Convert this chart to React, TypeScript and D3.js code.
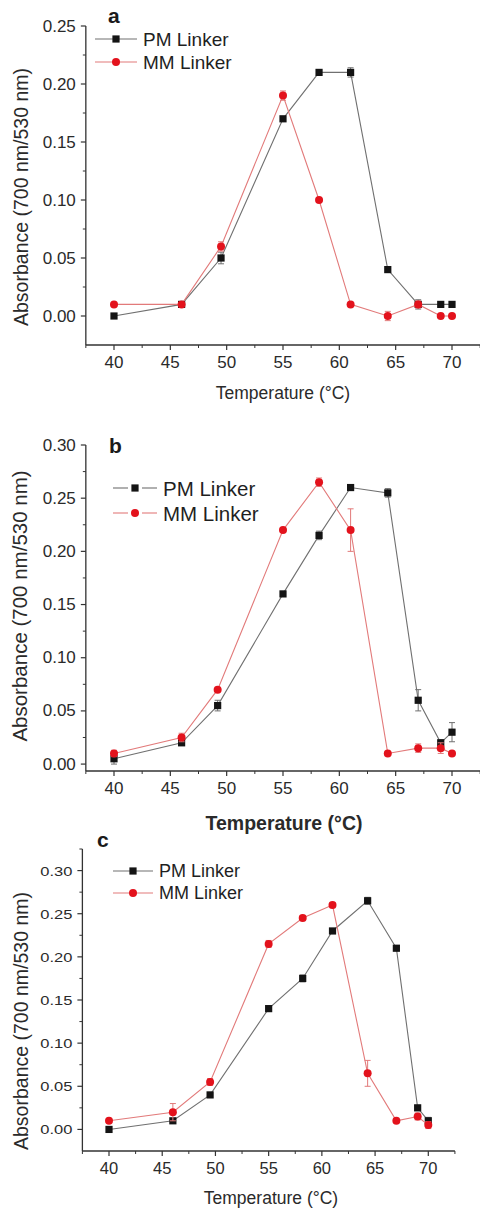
import React from "react";
import * as d3 from "d3";

const tempsA = [40, 46, 49.5, 55, 58.2, 61, 64.3, 67, 69, 70];
const pmA = [0.0, 0.01, 0.05, 0.17, 0.21, 0.21, 0.04, 0.01, 0.01, 0.01];
const pmAErr = [0, 0, 0.005, 0, 0, 0.004, 0, 0.004, 0, 0];
const mmA = [0.01, 0.01, 0.06, 0.19, 0.1, 0.01, 0.0, 0.01, 0.0, 0.0];
const mmAErr = [0, 0, 0.004, 0.004, 0, 0, 0.004, 0.003, 0, 0];

const tempsB = [40, 46, 49.2, 55, 58.2, 61, 64.3, 67, 69, 70];
const pmB = [0.005, 0.02, 0.055, 0.16, 0.215, 0.26, 0.255, 0.06, 0.02, 0.03];
const pmBErr = [0.005, 0.002, 0.005, 0, 0.004, 0, 0.004, 0.01, 0.003, 0.009];
const mmB = [0.01, 0.025, 0.07, 0.22, 0.265, 0.22, 0.01, 0.015, 0.015, 0.01];
const mmBErr = [0.003, 0.004, 0, 0, 0.004, 0.02, 0, 0.004, 0.005, 0];

const tempsC = [40, 46, 49.5, 55, 58.2, 61, 64.3, 67, 69, 70];
const pmC = [0.0, 0.01, 0.04, 0.14, 0.175, 0.23, 0.265, 0.21, 0.025, 0.01];
const pmCErr = [0, 0, 0, 0, 0.004, 0, 0.004, 0, 0.003, 0.004];
const mmC = [0.01, 0.02, 0.055, 0.215, 0.245, 0.26, 0.065, 0.01, 0.015, 0.005];
const mmCErr = [0, 0.01, 0.004, 0.004, 0.003, 0.003, 0.015, 0, 0.004, 0.004];

const xTicks = [40, 45, 50, 55, 60, 65, 70];
const seriesNames = ["PM Linker", "MM Linker"];
const xTitle = "Temperature (\u00B0C)";
const yTitle = "Absorbance (700 nm/530 nm)";

const PM_MARK = "#141414";
const PM_LINE = "#707070";
const MM_MARK = "#e3121c";
const MM_LINE = "#e27a7a";
const AXIS = "#333";
const FONT = "'Liberation Sans', Arial, sans-serif";

type PanelCfg = {
  label: string;
  temps: number[];
  pm: number[];
  pmErr: number[];
  mm: number[];
  mmErr: number[];
  x40: number;
  x70: number;
  yDomain: [number, number];
  yRange: [number, number];
  yMax: number;
  tickFont: number;
  tickScaleY: number;
  xTitleBold: boolean;
  xTitleFont: number;
  xTitleX: number;
  xTitleY: number;
  yTitleX: number;
  yTitleY: number;
  yTitleFont: number;
  labelPos: [number, number];
  legend: { x1: number; x2: number; mx: number; tx: number; y1: number; y2: number; font: number; gap: boolean };
};

const panels: PanelCfg[] = [
  {
    label: "a",
    temps: tempsA, pm: pmA, pmErr: pmAErr, mm: mmA, mmErr: mmAErr,
    x40: 114, x70: 452,
    yDomain: [-0.025, 0.25], yRange: [345, 26], yMax: 0.25,
    tickFont: 17, tickScaleY: 1,
    xTitleBold: false, xTitleFont: 17.5, xTitleX: 283, xTitleY: 399,
    yTitleX: 28, yTitleY: 197, yTitleFont: 19.5,
    labelPos: [108, 23],
    legend: { x1: 95, x2: 137, mx: 116, tx: 143, y1: 39, y2: 62, font: 19, gap: false },
  },
  {
    label: "b",
    temps: tempsB, pm: pmB, pmErr: pmBErr, mm: mmB, mmErr: mmBErr,
    x40: 114, x70: 452,
    yDomain: [-0.0065, 0.3], yRange: [771, 445], yMax: 0.3,
    tickFont: 17, tickScaleY: 1,
    xTitleBold: true, xTitleFont: 19.5, xTitleX: 284, xTitleY: 830,
    yTitleX: 27, yTitleY: 606, yTitleFont: 20.5,
    labelPos: [109, 453],
    legend: { x1: 113, x2: 157, mx: 135, tx: 163, y1: 488, y2: 513, font: 20.5, gap: true },
  },
  {
    label: "c",
    temps: tempsC, pm: pmC, pmErr: pmCErr, mm: mmC, mmErr: mmCErr,
    x40: 109, x70: 428.3,
    yDomain: [-0.025, 0.325], yRange: [1151, 849], yMax: 0.3,
    tickFont: 16.5, tickScaleY: 0.82,
    xTitleBold: false, xTitleFont: 17.5, xTitleX: 271, xTitleY: 1204,
    yTitleX: 28, yTitleY: 1021, yTitleFont: 19.5,
    labelPos: [97, 847],
    legend: { x1: 113, x2: 153, mx: 133, tx: 159, y1: 871, y2: 893, font: 18, gap: false },
  },
];

function Panel({ cfg }: { cfg: PanelCfg }) {
  const x = d3.scaleLinear().domain([40, 70]).range([cfg.x40, cfg.x70]);
  const y = d3.scaleLinear().domain(cfg.yDomain).range(cfg.yRange);
  const xLeft = x(37.5);
  const xRight = x(72.5);
  const yBottom = cfg.yRange[0];
  const yTop = cfg.yRange[1];

  const yMajor = d3.range(0, cfg.yMax + 1e-9, 0.05);
  const yMinor = d3.range(0.025, cfg.yDomain[1] + 1e-9, 0.05);
  const xMinor = d3.range(37.5, 72.6, 5);

  const line = d3
    .line<number>()
    .x((_, i) => x(cfg.temps[i]))
    .y((v) => y(v));

  const series = [
    { vals: cfg.pm, err: cfg.pmErr, mark: PM_MARK, lc: PM_LINE, shape: "sq" },
    { vals: cfg.mm, err: cfg.mmErr, mark: MM_MARK, lc: MM_LINE, shape: "ci" },
  ];

  const marker = (shape: string, cx: number, cy: number, color: string, key: string) =>
    shape === "sq" ? (
      <rect key={key} x={cx - 3.6} y={cy - 3.6} width={7.2} height={7.2} fill={color} />
    ) : (
      <circle key={key} cx={cx} cy={cy} r={4} fill={color} />
    );

  const lg = cfg.legend;
  const legendYs = [lg.y1, lg.y2];

  return (
    <g fontFamily={FONT}>
      <line x1={xLeft} x2={xLeft} y1={yTop} y2={yBottom} stroke={AXIS} strokeWidth={1.3} />
      <line x1={xLeft} x2={xRight} y1={yBottom} y2={yBottom} stroke={AXIS} strokeWidth={1.3} />
      {yMajor.map((v) => (
        <g key={"ym" + v}>
          <line x1={xLeft - 5} x2={xLeft} y1={y(v)} y2={y(v)} stroke={AXIS} strokeWidth={1.2} />
          <text
            transform={`translate(${xLeft - 10},${y(v)}) scale(1,${cfg.tickScaleY})`}
            textAnchor="end"
            dominantBaseline="central"
            fontSize={cfg.tickFont}
            fill="#2a2a2a"
          >
            {d3.format(".2f")(v)}
          </text>
        </g>
      ))}
      {yMinor.map((v) => (
        <line key={"yn" + v} x1={xLeft - 3} x2={xLeft} y1={y(v)} y2={y(v)} stroke={AXIS} strokeWidth={1} />
      ))}
      {xTicks.map((t) => (
        <g key={"xm" + t}>
          <line x1={x(t)} x2={x(t)} y1={yBottom} y2={yBottom + 5} stroke={AXIS} strokeWidth={1.2} />
          <text x={x(t)} y={yBottom + 23} textAnchor="middle" fontSize={cfg.tickFont} fill="#2a2a2a">
            {t}
          </text>
        </g>
      ))}
      {xMinor.map((t) => (
        <line key={"xn" + t} x1={x(t)} x2={x(t)} y1={yBottom} y2={yBottom + 3} stroke={AXIS} strokeWidth={1} />
      ))}
      <text
        x={cfg.xTitleX}
        y={cfg.xTitleY}
        textAnchor="middle"
        fontSize={cfg.xTitleFont}
        fontWeight={cfg.xTitleBold ? "bold" : "normal"}
        fill="#2a2a2a"
      >
        {xTitle}
      </text>
      <text
        transform={`translate(${cfg.yTitleX},${cfg.yTitleY}) rotate(-90)`}
        textAnchor="middle"
        fontSize={cfg.yTitleFont}
        fill="#2a2a2a"
      >
        {yTitle}
      </text>
      <text x={cfg.labelPos[0]} y={cfg.labelPos[1]} fontSize={21} fontWeight="bold" fill="#1a1a1a">
        {cfg.label}
      </text>
      {series.map((s, si) => (
        <g key={"s" + si}>
          <path d={line(s.vals) || ""} fill="none" stroke={s.lc} strokeWidth={1.1} />
          {s.vals.map((v, i) =>
            s.err[i] > 0 ? (
              <g key={"e" + i} stroke={s.lc} strokeWidth={1}>
                <line x1={x(cfg.temps[i])} x2={x(cfg.temps[i])} y1={y(v - s.err[i])} y2={y(v + s.err[i])} />
                <line x1={x(cfg.temps[i]) - 3} x2={x(cfg.temps[i]) + 3} y1={y(v - s.err[i])} y2={y(v - s.err[i])} />
                <line x1={x(cfg.temps[i]) - 3} x2={x(cfg.temps[i]) + 3} y1={y(v + s.err[i])} y2={y(v + s.err[i])} />
              </g>
            ) : null
          )}
          {s.vals.map((v, i) => marker(s.shape, x(cfg.temps[i]), y(v), s.mark, "m" + i))}
        </g>
      ))}
      {series.map((s, si) => (
        <g key={"l" + si}>
          {lg.gap ? (
            <>
              <line x1={lg.x1} x2={lg.mx - 7} y1={legendYs[si]} y2={legendYs[si]} stroke={s.lc} strokeWidth={1.1} />
              <line x1={lg.mx + 7} x2={lg.x2} y1={legendYs[si]} y2={legendYs[si]} stroke={s.lc} strokeWidth={1.1} />
            </>
          ) : (
            <line x1={lg.x1} x2={lg.x2} y1={legendYs[si]} y2={legendYs[si]} stroke={s.lc} strokeWidth={1.1} />
          )}
          {marker(s.shape, lg.mx, legendYs[si], s.mark, "lm" + si)}
          <text x={lg.tx} y={legendYs[si]} dominantBaseline="central" fontSize={lg.font} fill="#1f1f1f">
            {seriesNames[si]}
          </text>
        </g>
      ))}
    </g>
  );
}

export default function App() {
  return (
    <svg
      width={480}
      height={1211}
      style={{ position: "absolute", left: 0, top: 0, background: "#fff" }}
    >
      <rect width={480} height={1211} fill="#fff" />
      {panels.map((p) => (
        <Panel key={p.label} cfg={p} />
      ))}
    </svg>
  );
}
